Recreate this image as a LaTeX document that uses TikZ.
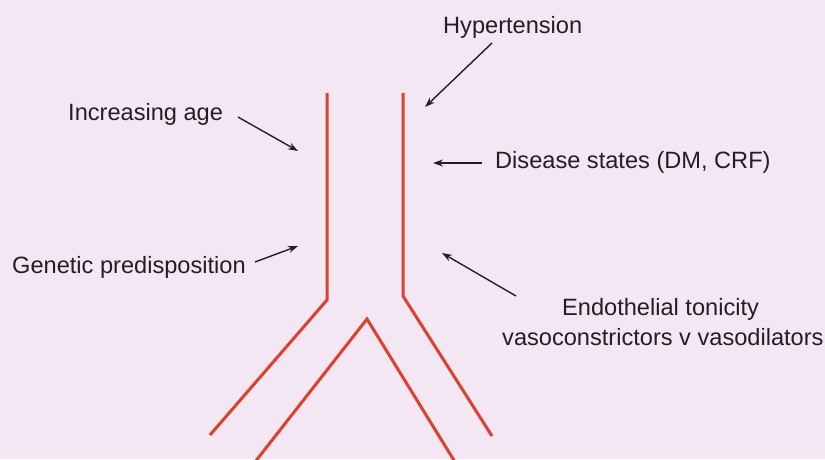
\documentclass[tikz,border=0pt]{standalone}
\usepackage{fontspec}
\setmainfont{Liberation Sans}
\usetikzlibrary{arrows.meta}
\definecolor{bg}{RGB}{243,231,243}
\definecolor{vessel}{RGB}{222,64,42}
\definecolor{ink}{RGB}{34,32,36}
\tikzset{
  lbl/.style={anchor=base west, inner sep=0pt, text=ink, font=\fontsize{23.6}{28}\selectfont},
  wall/.style={draw=vessel, line width=3pt, line join=miter},
  pointer/.style={draw=ink, line width=1.4pt, -{Stealth[length=10pt,width=7pt]}}
}
\begin{document}
\begin{tikzpicture}[x=1pt,y=-1pt]
\fill[bg] (0,0) rectangle (825,459);
\useasboundingbox (0,0) rectangle (825,459);
% vessel
\draw[wall] (327,93) -- (327,300) -- (210,435);
\draw[wall] (403,93) -- (403,296) -- (492,436);
\draw[wall] (255,462) -- (367,319) -- (455,462);
% labels
\node[lbl] (hyp) at (443,33) {Hypertension};
\node[lbl] (age) at (68,120) {Increasing age};
\node[lbl] (gen) at (12,273) {Genetic predisposition};
\node[lbl] (dis) at (495,168) {Disease states (DM, CRF)};
\node[lbl] (endo) at (562,315) {Endothelial tonicity};
\node[lbl] (vaso) at (502,345) {vasoconstrictors v vasodilators};
% pointer ends
\coordinate (hypA) at (492,43);   \coordinate (hypB) at (425,107);
\coordinate (ageA) at (238,117);  \coordinate (ageB) at (298,151);
\coordinate (genA) at (255,262);  \coordinate (genB) at (298,246);
\coordinate (disA) at (482,163);  \coordinate (disB) at (433,163);
\coordinate (endA) at (516,296);  \coordinate (endB) at (442,253);
\draw[pointer] (hypA) -- (hypB);
\draw[pointer] (ageA) -- (ageB);
\draw[pointer] (genA) -- (genB);
\draw[pointer] (disA) -- (disB);
\draw[pointer] (endA) -- (endB);
\end{tikzpicture}
\end{document}
